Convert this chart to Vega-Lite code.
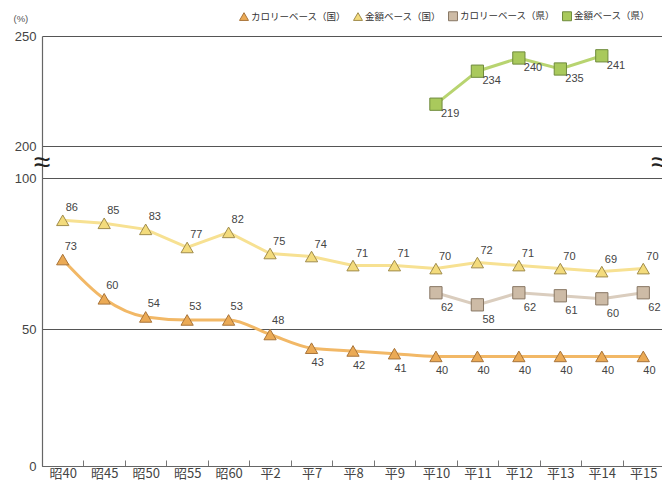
{
  "$schema": "https://vega.github.io/schema/vega-lite/v6.json",
  "width": 622,
  "height": 430,
  "autosize": {"type": "none"},
  "padding": {"left": 42, "top": 36, "right": 0, "bottom": 14},
  "background": "#ffffff",
  "config": {
    "view": {"stroke": null},
    "font": "Liberation Sans"
  },
  "data": {
    "values": [
      {"year": "昭40", "series": "カロリーベース（国）", "value": 73},
      {"year": "昭45", "series": "カロリーベース（国）", "value": 60},
      {"year": "昭50", "series": "カロリーベース（国）", "value": 54},
      {"year": "昭55", "series": "カロリーベース（国）", "value": 53},
      {"year": "昭60", "series": "カロリーベース（国）", "value": 53},
      {"year": "平2", "series": "カロリーベース（国）", "value": 48},
      {"year": "平7", "series": "カロリーベース（国）", "value": 43},
      {"year": "平8", "series": "カロリーベース（国）", "value": 42},
      {"year": "平9", "series": "カロリーベース（国）", "value": 41},
      {"year": "平10", "series": "カロリーベース（国）", "value": 40},
      {"year": "平11", "series": "カロリーベース（国）", "value": 40},
      {"year": "平12", "series": "カロリーベース（国）", "value": 40},
      {"year": "平13", "series": "カロリーベース（国）", "value": 40},
      {"year": "平14", "series": "カロリーベース（国）", "value": 40},
      {"year": "平15", "series": "カロリーベース（国）", "value": 40},
      {"year": "昭40", "series": "金額ベース（国）", "value": 86},
      {"year": "昭45", "series": "金額ベース（国）", "value": 85},
      {"year": "昭50", "series": "金額ベース（国）", "value": 83},
      {"year": "昭55", "series": "金額ベース（国）", "value": 77},
      {"year": "昭60", "series": "金額ベース（国）", "value": 82},
      {"year": "平2", "series": "金額ベース（国）", "value": 75},
      {"year": "平7", "series": "金額ベース（国）", "value": 74},
      {"year": "平8", "series": "金額ベース（国）", "value": 71},
      {"year": "平9", "series": "金額ベース（国）", "value": 71},
      {"year": "平10", "series": "金額ベース（国）", "value": 70},
      {"year": "平11", "series": "金額ベース（国）", "value": 72},
      {"year": "平12", "series": "金額ベース（国）", "value": 71},
      {"year": "平13", "series": "金額ベース（国）", "value": 70},
      {"year": "平14", "series": "金額ベース（国）", "value": 69},
      {"year": "平15", "series": "金額ベース（国）", "value": 70},
      {"year": "平10", "series": "カロリーベース（県）", "value": 62},
      {"year": "平11", "series": "カロリーベース（県）", "value": 58},
      {"year": "平12", "series": "カロリーベース（県）", "value": 62},
      {"year": "平13", "series": "カロリーベース（県）", "value": 61},
      {"year": "平14", "series": "カロリーベース（県）", "value": 60},
      {"year": "平15", "series": "カロリーベース（県）", "value": 62},
      {"year": "平10", "series": "金額ベース（県）", "value": 219},
      {"year": "平11", "series": "金額ベース（県）", "value": 234},
      {"year": "平12", "series": "金額ベース（県）", "value": 240},
      {"year": "平13", "series": "金額ベース（県）", "value": 235},
      {"year": "平14", "series": "金額ベース（県）", "value": 241}
    ]
  },
  "encoding": {
    "x": {
      "field": "year",
      "type": "ordinal",
      "sort": ["昭40", "昭45", "昭50", "昭55", "昭60", "平2", "平7", "平8", "平9", "平10", "平11", "平12", "平13", "平14", "平15"],
      "scale": {"type": "band", "paddingInner": 0, "paddingOuter": 0},
      "axis": {
        "title": null,
        "labelAngle": 0,
        "labelFont": "Noto Sans CJK JP",
        "labelFontSize": 13,
        "labelColor": "#444444",
        "labelPadding": 7,
        "domainColor": "#666666",
        "domainWidth": 1.2,
        "tickColor": "#777777",
        "tickSize": -6,
        "tickBand": "extent",
        "grid": false
      }
    },
    "y": {
      "field": "value",
      "type": "quantitative",
      "scale": {
        "type": "linear",
        "domain": [0, 50, 100, 200, 250],
        "range": [430, 293, 142, 110, 0],
        "nice": false,
        "zero": false
      },
      "axis": {
        "values": [0, 50, 100, 200, 250],
        "title": "(%)",
        "titleAngle": 0,
        "titleX": -29,
        "titleY": -18,
        "titleAlign": "left",
        "titleBaseline": "middle",
        "titleFontSize": 9.5,
        "titleFontWeight": "normal",
        "titleColor": "#555555",
        "labelFontSize": 13,
        "labelColor": "#444444",
        "labelPadding": 6,
        "ticks": false,
        "domainColor": "#666666",
        "domainWidth": 1.2,
        "grid": true,
        "gridColor": "#555555",
        "gridWidth": 1.2
      }
    }
  },
  "layer": [
    {
      "transform": [{"filter": {"field": "series", "equal": "カロリーベース（国）"}}],
      "mark": {"type": "line", "interpolate": "monotone", "strokeWidth": 3},
      "encoding": {
        "color": {
          "field": "series",
          "type": "nominal",
          "scale": {
            "domain": ["金額ベース（県）", "カロリーベース（県）", "金額ベース（国）", "カロリーベース（国）"],
            "range": ["#B8D470", "#DACDBE", "#F7E192", "#F2B866"]
          },
          "legend": null
        }
      }
    },
    {
      "transform": [{"filter": {"field": "series", "oneOf": ["金額ベース（国）", "カロリーベース（県）", "金額ベース（県）"]}}],
      "mark": {"type": "line", "interpolate": "linear", "strokeWidth": 3},
      "encoding": {
        "color": {
          "field": "series",
          "type": "nominal",
          "scale": {
            "domain": ["金額ベース（県）", "カロリーベース（県）", "金額ベース（国）", "カロリーベース（国）"],
            "range": ["#B8D470", "#DACDBE", "#F7E192", "#F2B866"]
          },
          "legend": null
        }
      }
    },
    {
      "mark": {"type": "point", "filled": true, "opacity": 1, "strokeWidth": 1},
      "encoding": {
        "shape": {
          "field": "series",
          "type": "nominal",
          "scale": {
            "domain": ["カロリーベース（国）", "金額ベース（国）", "カロリーベース（県）", "金額ベース（県）"],
            "range": ["triangle-up", "triangle-up", "square", "square"]
          },
          "legend": {
            "title": null,
            "orient": "none",
            "legendX": 197,
            "legendY": -25,
            "direction": "horizontal",
            "labelFont": "Noto Sans CJK JP",
            "labelFontSize": 9.5,
            "labelColor": "#333333",
            "symbolSize": 80,
            "symbolStrokeWidth": 1,
            "labelOffset": 2,
            "columnPadding": 4
          }
        },
        "fill": {
          "field": "series",
          "type": "nominal",
          "scale": {
            "domain": ["カロリーベース（国）", "金額ベース（国）", "カロリーベース（県）", "金額ベース（県）"],
            "range": ["#EBAA55", "#F3DB7C", "#CDBBA6", "#A9C95C"]
          }
        },
        "stroke": {
          "field": "series",
          "type": "nominal",
          "scale": {
            "domain": ["カロリーベース（国）", "金額ベース（国）", "カロリーベース（県）", "金額ベース（県）"],
            "range": ["#A8743A", "#A08C4C", "#887764", "#6F8B3C"]
          }
        },
        "size": {"value": 150}
      }
    },
    {
      "transform": [{"filter": {"field": "series", "equal": "金額ベース（国）"}}],
      "mark": {"type": "text", "align": "left", "baseline": "middle", "dx": 3, "dy": -12, "fontSize": 11, "color": "#444444"},
      "encoding": {"text": {"field": "value", "type": "quantitative"}}
    },
    {
      "transform": [
        {"filter": {"field": "series", "equal": "カロリーベース（国）"}},
        {"filter": {"field": "year", "oneOf": ["昭40", "昭45", "昭50", "昭55", "昭60", "平2"]}}
      ],
      "mark": {"type": "text", "align": "left", "baseline": "middle", "dx": 2, "dy": -13, "fontSize": 11, "color": "#444444"},
      "encoding": {"text": {"field": "value", "type": "quantitative"}}
    },
    {
      "transform": [
        {"filter": {"field": "series", "equal": "カロリーベース（国）"}},
        {"filter": {"field": "year", "oneOf": ["平7", "平8", "平9", "平10", "平11", "平12", "平13", "平14", "平15"]}}
      ],
      "mark": {"type": "text", "align": "left", "baseline": "middle", "dx": 0, "dy": 15, "fontSize": 11, "color": "#444444"},
      "encoding": {"text": {"field": "value", "type": "quantitative"}}
    },
    {
      "transform": [{"filter": {"field": "series", "equal": "カロリーベース（県）"}}],
      "mark": {"type": "text", "align": "left", "baseline": "middle", "dx": 5, "dy": 15, "fontSize": 11, "color": "#444444"},
      "encoding": {"text": {"field": "value", "type": "quantitative"}}
    },
    {
      "transform": [{"filter": {"field": "series", "equal": "金額ベース（県）"}}],
      "mark": {"type": "text", "align": "left", "baseline": "middle", "dx": 5, "dy": 10, "fontSize": 11, "color": "#444444"},
      "encoding": {"text": {"field": "value", "type": "quantitative"}}
    },
    {
      "data": {"values": [{"year": "昭40", "value": 150, "mark": "≈"}]},
      "mark": {"type": "text", "align": "center", "baseline": "middle", "dx": -20.7, "dy": 1, "fontSize": 30, "color": "#222222"},
      "encoding": {"text": {"field": "mark"}}
    },
    {
      "data": {"values": [{"year": "平15", "value": 150, "mark": "≈"}]},
      "mark": {"type": "text", "align": "center", "baseline": "middle", "dx": 16, "dy": 1, "fontSize": 30, "color": "#222222"},
      "encoding": {"text": {"field": "mark"}}
    }
  ]
}
